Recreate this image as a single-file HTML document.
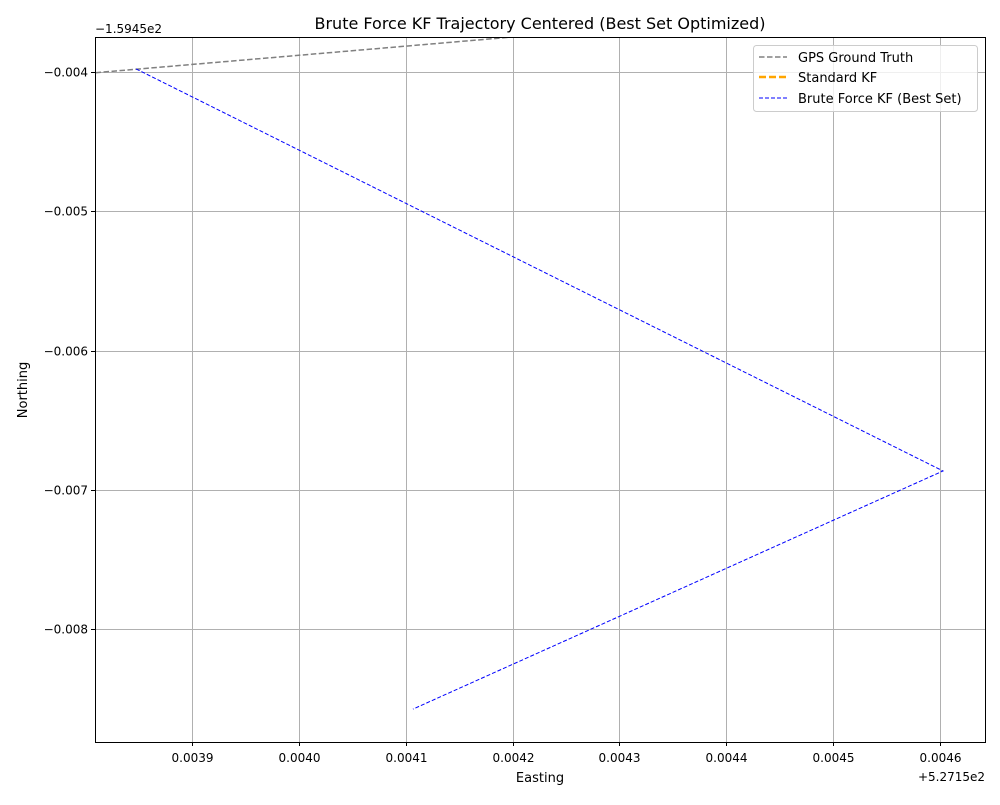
<!DOCTYPE html>
<html><head><meta charset="utf-8"><style>
body{margin:0;background:#fff;font-family:"Liberation Sans","DejaVu Sans",sans-serif}
svg text{font-family:"DejaVu Sans","Liberation Sans",sans-serif}
</style></head><body>
<svg id="chart" width="1000" height="800" xmlns="http://www.w3.org/2000/svg">
<rect width="1000" height="800" fill="#fff"/>
<text x="540" y="29" text-anchor="middle" font-size="16">Brute Force KF Trajectory Centered (Best Set Optimized)</text>
<g id="grid"></g>
<g id="series"></g>
<rect x="95.5" y="37.5" width="890" height="705" fill="none" stroke="#000" stroke-width="1"/>
<g id="ticks"></g>
<text x="95" y="33" font-size="12">−1.5945e2</text>
<text x="985" y="781" text-anchor="end" font-size="12">+5.2715e2</text>
<text x="540" y="782" text-anchor="middle" font-size="13">Easting</text>
<text transform="translate(27,390) rotate(-90)" text-anchor="middle" font-size="13">Northing</text>
<g>
<rect x="753.5" y="45.5" width="224" height="66" rx="3" fill="#fff" fill-opacity="0.8" stroke="#ccc"/>
<line x1="759" y1="57" x2="787" y2="57" stroke="#808080" stroke-width="1.5" stroke-dasharray="5.5,2.5"/>
<text x="798" y="62" font-size="13">GPS Ground Truth</text>
<line x1="759" y1="77" x2="787" y2="77" stroke="orange" stroke-width="2.5" stroke-dasharray="7,3"/>
<text x="798" y="82" font-size="13">Standard KF</text>
<line x1="759" y1="98" x2="787" y2="98" stroke="blue" stroke-width="1" stroke-dasharray="4,2"/>
<text x="798" y="103" font-size="13">Brute Force KF (Best Set)</text>
</g>
</svg>
<script>
const xTicks=[0.0039,0.0040,0.0041,0.0042,0.0043,0.0044,0.0045,0.0046];
const yTicks=[-0.004,-0.005,-0.006,-0.007,-0.008];
const gpsX=[0.0037800,0.0042000];
const gpsY=[-0.0040250,-0.0037490];
const bfX=[0.0038477,0.0046028,0.0041068];
const bfY=[-0.003978,-0.006865,-0.008575];
const X0=95,X1=985,Y0=37,Y1=742,xmin=0.0038093,xmax=0.0046421,ymin=-0.008811,ymax=-0.003749;
const sx=v=>X0+(v-xmin)/(xmax-xmin)*(X1-X0);
const sy=v=>Y1-(v-ymin)/(ymax-ymin)*(Y1-Y0);
const NS="http://www.w3.org/2000/svg";
function mk(t,a,p){const e=document.createElementNS(NS,t);for(const k in a)e.setAttribute(k,a[k]);p.appendChild(e);return e;}
const grid=document.getElementById('grid'),ticks=document.getElementById('ticks'),ser=document.getElementById('series');
xTicks.forEach(v=>{const x=Math.round(sx(v))+0.5;
const g=mk('line',{x1:x,x2:x,y1:Y0,y2:Y1,stroke:'#b0b0b0','stroke-width':1},grid);


mk('line',{x1:x,x2:x,y1:Y1,y2:Y1+4,stroke:'#000'},ticks);
const t=mk('text',{x:x,y:Y1+20,'text-anchor':'middle','font-size':12},ticks);t.textContent=v.toFixed(4);

});
yTicks.forEach(v=>{const y=Math.round(sy(v))+0.5;
const g=mk('line',{x1:X0,x2:X1,y1:y,y2:y,stroke:'#b0b0b0','stroke-width':1},grid);


mk('line',{x1:X0-4,x2:X0,y1:y,y2:y,stroke:'#000'},ticks);
const t=mk('text',{x:X0-7,y:y+4,'text-anchor':'end','font-size':12},ticks);t.textContent='−'+Math.abs(v).toFixed(3);

});
const clip=mk('clipPath',{id:'pc'},ser);mk('rect',{x:X0,y:Y0,width:X1-X0,height:Y1-Y0},clip);
const gp=mk('polyline',{points:gpsX.map((v,i)=>sx(v)+','+sy(gpsY[i])).join(' '),fill:'none',stroke:'#808080','stroke-width':1.5,'stroke-dasharray':'5.5,2.5','clip-path':'url(#pc)'},ser);


const bf=mk('polyline',{points:bfX.map((v,i)=>sx(v)+','+sy(bfY[i])).join(' '),fill:'none',stroke:'blue','stroke-width':1,'stroke-dasharray':'4,2','clip-path':'url(#pc)'},ser);


</script>
</body></html>
